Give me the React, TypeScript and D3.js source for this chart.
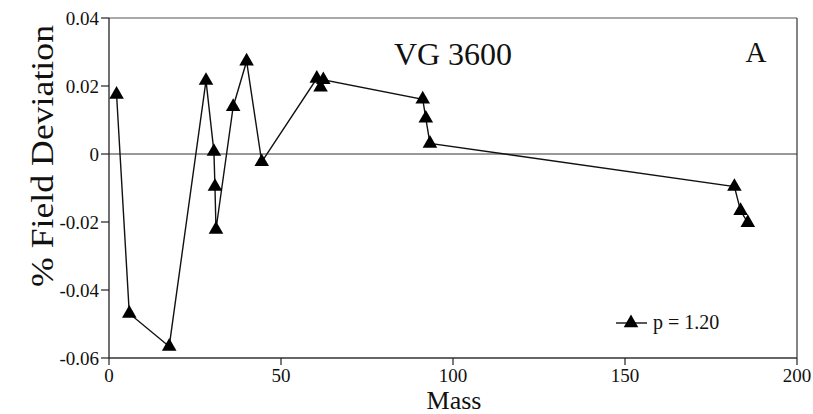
import React from "react";
import * as d3 from "d3";

// Mass values and % field deviation
const mass = [2.2, 5.9, 17.5, 28.2, 30.5, 30.8, 31.1, 36.1, 40.0, 44.4, 60.4, 61.5, 62.3, 91.2, 92.1, 93.3, 181.8, 183.6, 185.7];
const deviation = [0.0175, -0.0469, -0.0566, 0.0216, 0.0007, -0.0096, -0.0222, 0.0139, 0.0273, -0.0023, 0.0222, 0.0196, 0.0218, 0.0161, 0.0105, 0.0031, -0.0096, -0.0167, -0.0202];
const xTicks = [0, 50, 100, 150, 200];
const yTicks = [0.04, 0.02, 0, -0.02, -0.04, -0.06];
const yTickLabels = ["0.04", "0.02", "0", "-0.02", "-0.04", "-0.06"];

const W = 813;
const H = 414;
const left = 109;
const right = 797;
const top = 18;
const bottom = 358;
const font = "'Liberation Serif', 'Times New Roman', Times, serif";

export default function App() {
  const x = d3.scaleLinear().domain([0, 200]).range([left, right]);
  const y = d3.scaleLinear().domain([-0.06, 0.04]).range([bottom, top]);
  const pts = mass.map((m, i) => [m, deviation[i]] as [number, number]);
  const line = d3
    .line<[number, number]>()
    .x((d) => x(d[0]))
    .y((d) => y(d[1]));
  const tri = d3.symbol(d3.symbolTriangle, 92)()!;

  return (
    <svg
      width={W}
      height={H}
      style={{ position: "absolute", left: 0, top: 0, background: "#fff", fontFamily: font }}
    >
      {/* frame */}
      <line x1={left} x2={right} y1={top} y2={top} stroke="#555" strokeWidth={1.2} />
      <line x1={right} x2={right} y1={top} y2={bottom} stroke="#333" strokeWidth={1.2} />
      <line x1={left} x2={right} y1={bottom} y2={bottom} stroke="#333" strokeWidth={1.3} />
      <line x1={left} x2={left} y1={top} y2={bottom} stroke="#222" strokeWidth={1.3} />
      {/* zero line */}
      <line x1={left} x2={right} y1={y(0)} y2={y(0)} stroke="#333" strokeWidth={1} />

      {/* y ticks */}
      {yTicks.map((t, i) => (
        <g key={t} transform={`translate(0,${y(t)})`}>
          <line x1={left - 8} x2={left} stroke="#222" strokeWidth={1.2} />
          <text x={left - 10} dy="0.36em" textAnchor="end" fontSize={19} fill="#111">
            {yTickLabels[i]}
          </text>
        </g>
      ))}

      {/* x ticks */}
      {xTicks.map((t) => (
        <g key={t} transform={`translate(${x(t)},0)`}>
          <line y1={bottom} y2={bottom + 7} stroke="#222" strokeWidth={1.2} />
          <text y={382} textAnchor="middle" fontSize={19} fill="#111">
            {t}
          </text>
        </g>
      ))}

      {/* series */}
      <path d={line(pts)!} fill="none" stroke="#111" strokeWidth={1.4} />
      {pts.map((d, i) => (
        <path key={i} d={tri} transform={`translate(${x(d[0])},${y(d[1])})`} fill="#000" />
      ))}

      {/* labels */}
      <text x={453} y={65} textAnchor="middle" fontSize={32} fill="#111">
        VG 3600
      </text>
      <text x={756} y={62} textAnchor="middle" fontSize={29} fill="#111">
        A
      </text>
      <text x={454} y={409} textAnchor="middle" fontSize={26} fill="#111">
        Mass
      </text>
      <text
        transform={`translate(53,156) rotate(-90)`}
        textAnchor="middle"
        fontSize={32}
        fill="#111"
        textLength={262}
        lengthAdjust="spacingAndGlyphs"
      >
        % Field Deviation
      </text>

      {/* legend */}
      <line x1={616} x2={647} y1={323} y2={323} stroke="#111" strokeWidth={1.4} />
      <path d={tri} transform="translate(631,323)" fill="#000" />
      <text x={653} y={329} fontSize={20} fill="#111">
        p = 1.20
      </text>
    </svg>
  );
}
